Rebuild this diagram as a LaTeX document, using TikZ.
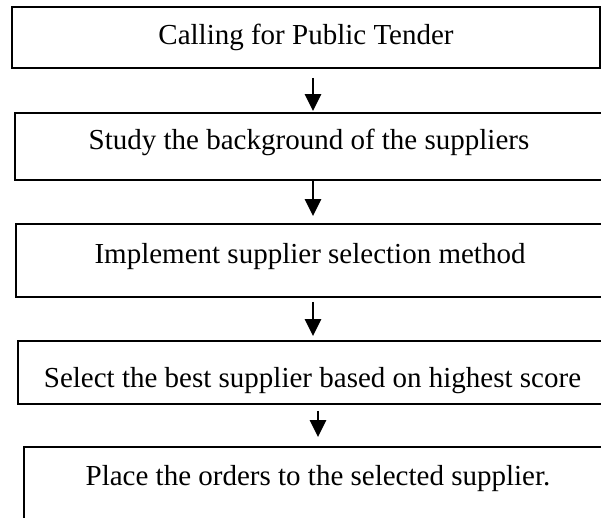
\documentclass[tikz,border=0pt]{standalone}
\usepackage{fontspec}
\setmainfont{Liberation Serif}
\usetikzlibrary{arrows.meta}
\begin{document}
\begin{tikzpicture}[x=1pt,y=1pt,
  stepbox/.style={draw=black, line width=1.8pt, rectangle, inner sep=0pt, minimum width=588pt},
  caption/.style={anchor=base, inner sep=0pt, font=\fontsize{29}{34}\selectfont},
  flow/.style={line width=2.4pt, -{Triangle[length=17pt,width=16pt]}}]
\useasboundingbox (0,0) rectangle (601,517);
\clip (0,0) rectangle (601,517);

% process steps (boxes)
\node[stepbox, minimum height=61pt] (b1) at (306,479.5) {};
\node[stepbox, minimum height=67pt] (b2) at (309,370.5) {};
\node[stepbox, minimum height=73pt] (b3) at (310,256.5) {};
\node[stepbox, minimum height=63pt, minimum width=589pt] (b4) at (312.5,144.5) {};
\node[stepbox, minimum height=100pt] (b5) at (318,20) {};

% step captions
\node[caption] (t1) at (306,472) {Calling for Public Tender};
\node[caption] (t2) at (309,367) {Study the background of the suppliers};
\node[caption] (t3) at (310,254) {Implement supplier selection method};
\node[caption] (t4) at (312.5,130) {Select the best supplier based on highest score};
\node[caption] (t5) at (318,32) {Place the orders to the selected supplier.};

% connectors
\coordinate (c1) at (313,0);
\coordinate (c4) at (318,0);
\draw[flow, shorten <=9pt, shorten >=1pt] (b1.south -| c1) -- (b2.north -| c1);
\draw[flow, shorten <=0pt, shorten >=7pt] (b2.south -| c1) -- (b3.north -| c1);
\draw[flow, shorten <=4pt, shorten >=4pt] (b3.south -| c1) -- (b4.north -| c1);
\draw[flow, shorten <=6pt, shorten >=9pt] (b4.south -| c4) -- (b5.north -| c4);
\end{tikzpicture}
\end{document}
